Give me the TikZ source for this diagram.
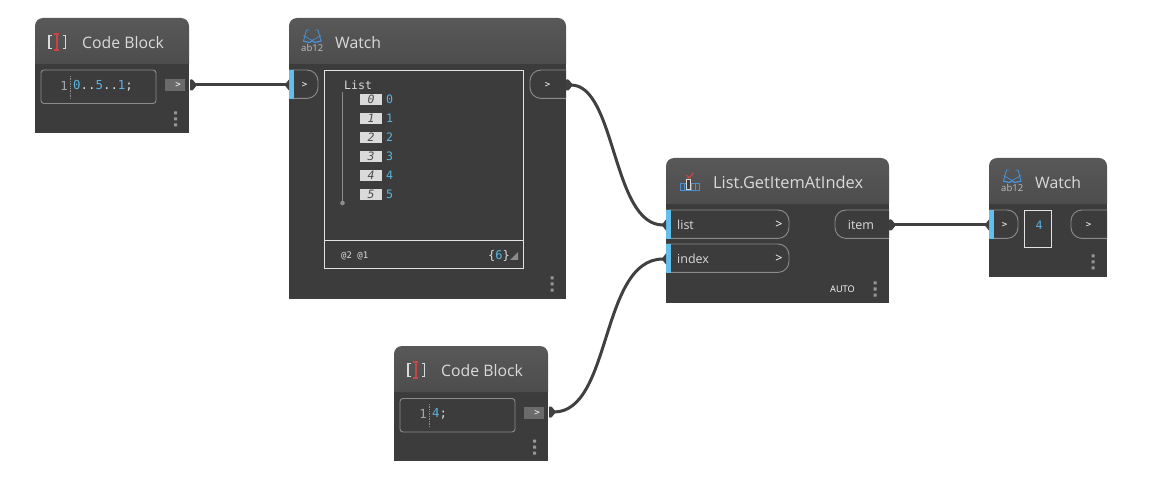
\documentclass[tikz,border=0pt]{standalone}
\usepackage{fontspec}
\setmainfont{Open Sans}
\newfontfamily\monof{DejaVu Sans Mono}
\definecolor{bodyc}{HTML}{3C3C3C}
\definecolor{headt}{HTML}{585858}
\definecolor{headb}{HTML}{4D4D4D}
\definecolor{wirec}{HTML}{404040}
\definecolor{portl}{HTML}{8C8C8C}
\definecolor{bluep}{HTML}{62BFEC}
\definecolor{bluet}{HTML}{5AB4E0}
\definecolor{icob}{HTML}{4A8FD0}
\definecolor{redi}{HTML}{C94444}
\definecolor{txtc}{HTML}{DADADA}
\definecolor{boxl}{HTML}{E2E2E2}
\tikzset{
  titletxt/.style={anchor=west,inner sep=0pt,text=txtc,font=\fontsize{15.8}{18}\selectfont},
  longtitle/.style={anchor=west,inner sep=0pt,text=txtc,font=\fontsize{16.4}{18}\selectfont},
  porttxt/.style={anchor=west,inner sep=0pt,text=txtc,font=\fontsize{12.5}{14}\selectfont},
  chev/.style={inner sep=0pt,text=white,font=\monof\fontsize{9}{10}\selectfont},
  chevb/.style={inner sep=0pt,text=white,font=\fontsize{12.5}{14}\selectfont},
  monotxt/.style={anchor=west,inner sep=0pt,text=txtc,font=\monof\fontsize{12.4}{14}\selectfont},
  listtxt/.style={anchor=west,inner sep=0pt,text=txtc,font=\monof\fontsize{11.6}{12}\selectfont},
  idxtag/.style={fill=txtc,inner sep=0pt,minimum width=22,minimum height=11,text=black!70,font=\monof\itshape\fontsize{11.5}{11}\selectfont},
  valtxt/.style={anchor=west,inner sep=0pt,text=bluet,font=\monof\fontsize{11.6}{12}\selectfont},
  portline/.style={draw=portl,line width=0.9,fill=bodyc},
  wire/.style={draw=wirec,line width=3},
  innerbox/.style={draw=boxl,line width=1,fill=none},
  linenum/.style={inner sep=0pt,text=black!35,font=\monof\fontsize{12.4}{14}\selectfont},
}
% body: x0 y0 x1 y1 yhead
\newcommand{\nodebody}[5]{%
  \fill[bodyc] (#1,#5) rectangle (#3,#4);
  \shade[top color=headt,bottom color=headb] (#1,#5) -- (#1,#2+8) arc[start angle=180,end angle=90,x radius=8,y radius=-8] -- (#3-8,#2) arc[start angle=90,end angle=0,x radius=8,y radius=-8] -- (#3,#5) -- cycle;
}
\newcommand{\threedots}[2]{\fill[portl!90!white] (#1-1.5,#2-7.5) rectangle (#1+1.5,#2-4.5) (#1-1.5,#2-1.5) rectangle (#1+1.5,#2+1.5) (#1-1.5,#2+4.5) rectangle (#1+1.5,#2+7.5);}
% input port x0 x1 y0 y1
\newcommand{\inport}[4]{%
  \draw[portline] (#1,#3) -- (#2-11,#3) arc[start angle=90,end angle=0,x radius=11,y radius=-11] -- (#2,#4-11) arc[start angle=0,end angle=-90,x radius=11,y radius=-11] -- (#1,#4);
  \fill[bluep] (#1,#3-0.4) rectangle (#1+5,#4+0.4);
}
\newcommand{\outport}[4]{%
  \draw[portline] (#2,#3) -- (#1+11,#3) arc[start angle=90,end angle=180,x radius=11,y radius=-11] -- (#1,#4-11) arc[start angle=180,end angle=270,x radius=11,y radius=-11] -- (#2,#4);
}
\newcommand{\pinin}[3]{\coordinate (#1) at (#2-3,#3); \fill[wirec] (#2,#3-5.5) -- (#2-4.5,#3) -- (#2,#3+5.5) -- cycle;}
\newcommand{\pinout}[3]{\coordinate (#1) at (#2+5,#3); \fill[wirec,rounded corners=0.6] (#2,#3-5.5) -- (#2+2.5,#3-5.5) -- (#2+7,#3) -- (#2+2.5,#3+5.5) -- (#2,#3+5.5) -- cycle;}
\newcommand{\codeicon}[3]{%
  \draw[txtc,line width=1.1] (#2+5.5,#3-6.5) -- (#2+3,#3-6.5) -- (#2+3,#3+6.5) -- (#2+5.5,#3+6.5);
  \draw[txtc,line width=1.1] (#2+17,#3-6.5) -- (#2+19.5,#3-6.5) -- (#2+19.5,#3+6.5) -- (#2+17,#3+6.5);
  \draw[redi,line width=1.3] (#2+8,#3-8) -- (#2+13,#3-8) (#2+8,#3+8) -- (#2+13,#3+8);
  \draw[redi,line width=2] (#2+10.5,#3-8) -- (#2+10.5,#3+8);
}
\newcommand{\watchicon}[3]{%
  \draw[icob,line width=0.9] (#2+1.5,#3+12) -- (#2+4.5,#3+1) -- (#2+7,#3+1) (#2+19,#3+12) -- (#2+16,#3+1) -- (#2+13.5,#3+1);
  \draw[icob,line width=0.7] (#2+1.5,#3+6.5) -- (#2+10.2,#3+11.5) -- (#2+19,#3+6.5);
  \draw[icob,line width=1.3] (#2+1,#3+12) -- (#2+8,#3+13.5) -- (#2+10.2,#3+11.5) -- (#2+12.5,#3+13.5) -- (#2+19.5,#3+12);
  \node[anchor=center,inner sep=0pt,text=black!25,font=\fontsize{9.5}{10}\selectfont] (#1) at (#2+10.2,#3+19) {ab12};
}
\begin{document}
\begin{tikzpicture}[x=1pt,y=-1pt]
\useasboundingbox (0,0) rectangle (1156,494);
% ---------- Code Block 1
\nodebody{35}{18}{189}{133}{64}
\codeicon{cbaicon}{46}{42}
\node[titletxt] (cbatitle) at (82,42.6) {Code Block};
\draw[portl,line width=0.9,rounded corners=3,fill=bodyc] (41,70) rectangle (156,103.5);
\node[linenum] (cbaline) at (64,86) {1};
\draw[portl,line width=0.7,densely dotted] (70.5,76) -- (70.5,99);
\node[monotxt] (cbacode) at (73,86) {\textcolor{bluet}{0}..\textcolor{bluet}{5}..\textcolor{bluet}{1};};
\fill[black!58] (165,79) rectangle (185,91);
\node[chev] (cbachev) at (178,85) {>};
\threedots{175.5}{119}
\pinout{cbaoutpin}{190}{85}
% ---------- Watch 1
\nodebody{289}{18}{566}{299}{64}
\watchicon{wataicon}{302}{29}
\node[titletxt] (watatitle) at (335,42.6) {Watch};
\inport{289}{318}{70}{98.4}
\node[chev] (watachev) at (304.5,85) {>};
\outport{530}{566}{70}{98.4}
\node[chev] (watachevo) at (547.5,85) {>};
\draw[innerbox] (324.5,70.5) rectangle (523.5,269);
\draw[innerbox] (324.5,241) -- (523.5,241);
\node[listtxt] (listhead) at (344,85) {List};
\draw[black!45,line width=1] (342.5,92) -- (342.5,203);
\fill[black!45] (342.5,203) circle (2.3);
\foreach \i/\yy in {0/99.5,1/118.5,2/137.5,3/156.5,4/175.5,5/194.5}{
  \node[idxtag] (tag\i) at (371,\yy) {\i};
  \node[valtxt] (val\i) at (386,\yy) {\i};
}
\node[anchor=west,inner sep=0pt,text=txtc,font=\monof\fontsize{9}{10}\selectfont] (levels) at (341,256) {@2 @1};
\node[anchor=west,inner sep=0pt,text=txtc,font=\monof\fontsize{12}{13}\selectfont] (count) at (488,255.5) {\{\textcolor{bluet}{6}\}};
\fill[black!45] (510,260) -- (518,252) -- (518,260) -- cycle;
\threedots{552}{284}
\pinin{watain}{289}{85}
\pinout{wataout}{566}{85}
% ---------- GetItem
\nodebody{666}{158}{889}{303}{204}
\fill[redi] (687,174.5) -- (689,177) -- (693,172.5) -- (694,173.5) -- (689,179) -- (686,175.5) -- cycle;
\draw[icob,line width=0.9] (680.5,183.5) rectangle (699.5,190) (684.5,183.5) -- (684.5,190) (691,183.5) -- (691,190) (695,183.5) -- (695,190);
\draw[txtc,line width=1,fill=bodyc] (686.5,179.5) rectangle (690,189.5);
\node[longtitle] (gettitle) at (713,182.6) {List.GetItemAtIndex};
\inport{666}{789}{210}{238.4}
\inport{666}{789}{244}{272.4}
\node[porttxt] (listport) at (677,224.5) {list};
\node[porttxt] (indexport) at (677,258.5) {index};
\node[chevb] (listchev) at (779,224.5) {>};
\node[chevb] (indexchev) at (779,258.5) {>};
\outport{835}{889}{210}{238.4}
\node[porttxt,anchor=center] (itemport) at (861,224.5) {item};
\node[anchor=west,inner sep=0pt,text=white,font=\fontsize{9.2}{10}\selectfont] (autotxt) at (830,289.5) {AUTO};
\threedots{875}{289}
\pinin{getlist}{666}{225}
\pinin{getindex}{666}{259}
\pinout{getitem}{889}{225}
% ---------- Watch 2
\nodebody{989}{158}{1107}{277}{204}
\watchicon{watbicon}{1002}{169}
\node[titletxt] (watbtitle) at (1035,182.6) {Watch};
\inport{989}{1018}{210}{238.4}
\node[chev] (watbchev) at (1004.5,225) {>};
\draw[innerbox] (1024.5,210.5) rectangle (1051.5,247.5);
\node[valtxt,anchor=center] (watbval) at (1039,225) {4};
\outport{1071}{1107}{210}{238.4}
\node[chev] (watbchevo) at (1088.5,225) {>};
\threedots{1093}{262}
\pinin{watbin}{989}{225}
% ---------- Code Block 2
\nodebody{394}{346}{548}{461}{392}
\codeicon{cbbicon}{405}{370}
\node[titletxt] (cbbtitle) at (441,370.6) {Code Block};
\draw[portl,line width=0.9,rounded corners=3,fill=bodyc] (400,398.5) rectangle (515,432);
\node[linenum] (cbbline) at (423,414) {1};
\draw[portl,line width=0.7,densely dotted] (429.5,404) -- (429.5,427);
\node[monotxt] (cbbcode) at (432,414) {\textcolor{bluet}{4};};
\fill[black!58] (524,407) rectangle (544,419);
\node[chev] (cbbchev) at (537,413) {>};
\threedots{534.5}{447}
\pinout{cbboutpin}{549}{412}
% ---------- connectors
\draw[wire] (cbaoutpin) -- (watain);
\draw[wire] (wataout) .. controls (616,85) and (612,225) .. (getlist);
\draw[wire] (cbboutpin) .. controls (612,412) and (600,259) .. (getindex);
\draw[wire] (getitem) -- (watbin);
\end{tikzpicture}
\end{document}
